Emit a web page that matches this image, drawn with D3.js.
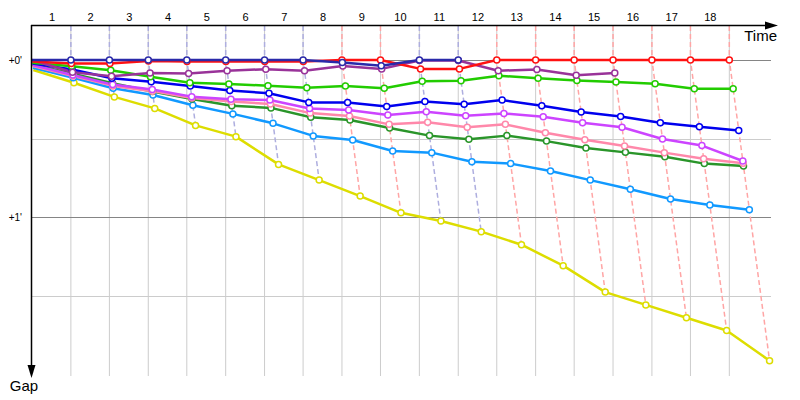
<!DOCTYPE html>
<html>
<head>
<meta charset="utf-8">
<script src="https://cdnjs.cloudflare.com/ajax/libs/d3/7.8.5/d3.min.js"></script>
<style>
  body { margin: 0; background: #fff; }
  svg { display: block; font-family: "Liberation Sans", Arial, sans-serif; }
</style>
</head>
<body>
<svg id="chart"></svg>
<script>
// SVG
var width = 800;
var height = 400;

// Data: leader's cumulative time (s) at end of each lap, lap 0 = start
var lapTimes = [0, 111, 221, 332, 442, 553, 664, 774, 885, 995, 1106, 1217, 1327, 1438, 1548, 1659, 1770, 1880, 1991];
var lapLabels = ["1", "2", "3", "4", "5", "6", "7", "8", "9", "10", "11", "12", "13", "14", "15", "16", "17", "18"];
var gapTicks = [0, 60];
var gapGrid = [0, 30, 60, 90];

// gap to the leader (s) at end of each lap, index = lap
var navyGaps = [0, 0, 0, 0, 0, 0, 0, 0, 1.0, 2.2, 0, 0];
var redGaps = [0.6, 1.3, 1.3, 0.4, 0.6, 0.6, 0.6, 0.6, 0, 0, 3.4, 3.4, 0, 0, 0, 0, 0, 0, 0];
var purpleGaps = [0, 4.7, 6.2, 5.0, 5.2, 4.1, 3.5, 4.1, 2.3, 3.4, 0.2, 0.2, 4.1, 3.6, 5.8, 5.0];
var greenGaps = [1.1, 2.4, 3.9, 6.4, 8.7, 9.2, 9.8, 10.6, 9.9, 10.8, 8.1, 7.9, 6.0, 7.0, 7.8, 8.4, 9.1, 11.0, 11.0];
var blueGaps = [1.3, 3.6, 7.0, 8.3, 9.9, 11.7, 12.7, 16.2, 16.2, 17.8, 15.9, 16.9, 15.3, 17.5, 19.9, 21.6, 24.0, 25.5, 26.9];
var magentaGaps = [1.9, 5.7, 9.4, 11.3, 14.0, 15.0, 15.3, 18.5, 19.1, 21.0, 19.8, 21.3, 20.4, 21.7, 24.0, 25.7, 30.2, 32.7, 38.6];
var pinkGaps = [2.3, 6.1, 9.9, 11.9, 14.5, 15.9, 16.8, 20.3, 21.4, 24.6, 23.8, 25.7, 24.6, 27.8, 30.5, 32.9, 35.4, 37.7, 39.5];
var darkGreenGaps = [1.7, 5.2, 8.9, 12.0, 14.9, 17.5, 18.3, 21.9, 22.9, 26.0, 28.9, 30.3, 28.9, 31.0, 33.6, 35.3, 37.0, 39.6, 40.5];
var lightBlueGaps = [3.0, 6.8, 10.8, 13.4, 17.3, 20.6, 24.2, 29.0, 30.6, 34.8, 35.4, 38.9, 39.6, 42.4, 45.9, 49.4, 53.1, 55.4, 57.2];
var yellowGaps = [3.8, 8.7, 14.1, 18.5, 25.0, 29.3, 39.9, 45.9, 52.0, 58.4, 61.5, 65.6, 70.6, 78.6, 88.7, 93.6, 98.5, 103.4, 114.9];

// drawing order (last on top) and colours
var runners = [
    { gaps: yellowGaps, color: "#dddd00" },
    { gaps: lightBlueGaps, color: "#1199ff" },
    { gaps: darkGreenGaps, color: "#2a952a" },
    { gaps: pinkGaps, color: "#ff88aa" },
    { gaps: magentaGaps, color: "#cc44ff" },
    { gaps: blueGaps, color: "#0000ee" },
    { gaps: greenGaps, color: "#22cc00" },
    { gaps: purpleGaps, color: "#993399" },
    { gaps: redGaps, color: "#ff1111" },
    { gaps: navyGaps, color: "#2a2aaa" }
];

var svg = d3.select("#chart")
    .attr("width", width)
    .attr("height", height);

// Scales
var xScale = d3.scaleLinear()
    .domain([0, 2130])
    .range([32, 778]);

var yScale = d3.scaleLinear()
    .domain([0, 120])
    .range([60, 374]);

var axisX = 31;
var axisY = 25;

// point position: leader time + own gap
function px(gaps, lap) { return xScale(lapTimes[lap] + gaps[lap]); }
function py(gaps, lap) { return yScale(gaps[lap]); }

//Grid
svg.append("g")
    .selectAll("line")
    .data(lapTimes.slice(1))
    .join("line")
    .attr("x1", d => xScale(d))
    .attr("x2", d => xScale(d))
    .attr("y1", axisY)
    .attr("y2", 376)
    .attr("stroke", "#cccccc")
    .attr("stroke-width", 1);

svg.append("g")
    .selectAll("line")
    .data(gapGrid)
    .join("line")
    .attr("x1", axisX)
    .attr("x2", 771)
    .attr("y1", d => Math.round(yScale(d)) + 0.5)
    .attr("y2", d => Math.round(yScale(d)) + 0.5)
    .attr("stroke", d => d % 60 === 0 ? "#858585" : "#cccccc")
    .attr("stroke-width", 1);

// Dashed lap lines, coloured after the lap leader
var lapLines = svg.append("g");
for (var lap = 1; lap < lapTimes.length; lap++) {
    var pts = runners
        .filter(r => r.gaps.length > lap)
        .map(r => ({ gap: r.gaps[lap], x: px(r.gaps, lap), y: py(r.gaps, lap), color: r.color }))
        .sort((a, b) => a.gap - b.gap);
    var lead = pts[0];
    var coords = [[xScale(lapTimes[lap]), axisY + 1]].concat(pts.map(p => [p.x, p.y]));
    lapLines.append("path")
        .attr("d", d3.line()(coords))
        .attr("fill", "none")
        .attr("stroke", d3.interpolateRgb(lead.color, "#ffffff")(0.62))
        .attr("stroke-width", 1.5)
        .attr("stroke-dasharray", "5,3");
}

// Runner lines
var line = d3.line()
    .x((d, i) => xScale(lapTimes[i] + d))
    .y(d => yScale(d));

svg.append("g")
    .selectAll("path")
    .data(runners)
    .join("path")
    .attr("d", r => line(r.gaps))
    .attr("fill", "none")
    .attr("stroke", r => r.color)
    .attr("stroke-width", 2.5)
    .attr("stroke-linejoin", "round");

// Points (none at the start)
runners.forEach(function (r) {
    svg.append("g")
        .selectAll("circle")
        .data(r.gaps.map((g, i) => i).slice(1))
        .join("circle")
        .attr("cx", i => px(r.gaps, i))
        .attr("cy", i => py(r.gaps, i))
        .attr("r", 3)
        .attr("fill", "#ffffff")
        .attr("stroke", r.color)
        .attr("stroke-width", 1.5);
});

// Axes
var midTimes = lapLabels.map((d, i) => (lapTimes[i] + lapTimes[i + 1]) / 2);
var xAxis = d3.axisTop(xScale)
    .tickValues(midTimes)
    .tickFormat((d, i) => lapLabels[i])
    .tickSize(0)
    .tickPadding(4);

var xAxisDisplay = svg.append("g")
    .attr("transform", "translate(0," + axisY + ")")
    .call(xAxis);
xAxisDisplay.select(".domain").remove();
xAxisDisplay.selectAll("text")
    .style("font-size", "11px")
    .style("font-family", "'Liberation Sans', Arial, sans-serif")
    .attr("fill", "#000");

var yAxis = d3.axisLeft(yScale)
    .tickValues(gapTicks)
    .tickFormat(d => "+" + (d / 60) + "'")
    .tickSize(0)
    .tickPadding(9);

var yAxisDisplay = svg.append("g")
    .attr("transform", "translate(" + axisX + ",0)")
    .call(yAxis);
yAxisDisplay.select(".domain").remove();
yAxisDisplay.selectAll("text")
    .style("font-size", "10px")
    .style("font-family", "'Liberation Sans', Arial, sans-serif")
    .attr("fill", "#000");

// axis lines with arrows
svg.append("line")
    .attr("x1", axisX).attr("x2", 768)
    .attr("y1", axisY + 0.5).attr("y2", axisY + 0.5)
    .attr("stroke", "#000").attr("stroke-width", 1.5);
svg.append("path")
    .attr("d", "M778," + (axisY + 0.5) + " L765," + (axisY - 3.5) + " L765," + (axisY + 4.5) + " Z")
    .attr("fill", "#000");

svg.append("line")
    .attr("x1", axisX + 0.5).attr("x2", axisX + 0.5)
    .attr("y1", axisY).attr("y2", 368)
    .attr("stroke", "#000").attr("stroke-width", 1.5);
svg.append("path")
    .attr("d", "M" + (axisX + 0.5) + ",378 L" + (axisX - 3.5) + ",365 L" + (axisX + 4.5) + ",365 Z")
    .attr("fill", "#000");

svg.append("text")
    .attr("x", 777)
    .attr("y", 41)
    .attr("text-anchor", "end")
    .style("font-size", "15px")
    .text("Time");

svg.append("text")
    .attr("x", 24)
    .attr("y", 391)
    .attr("text-anchor", "middle")
    .style("font-size", "15px")
    .text("Gap");
</script>
</body>
</html>
